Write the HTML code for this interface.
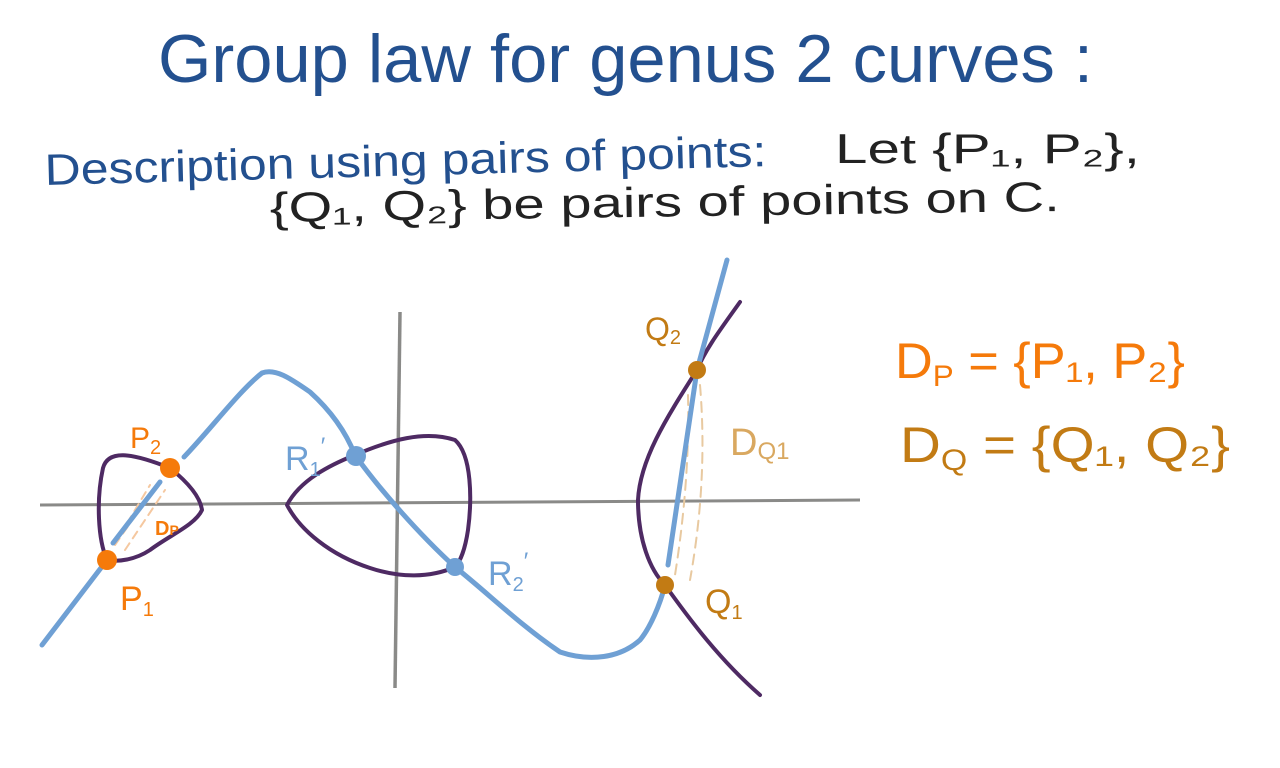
<!DOCTYPE html>
<html><head><meta charset="utf-8"><style>
html,body{margin:0;padding:0;background:#fff;}
svg{display:block;}
text{font-family:"Liberation Sans",sans-serif;}
</style></head><body>
<svg width="1280" height="768" viewBox="0 0 1280 768" xmlns="http://www.w3.org/2000/svg">
<rect width="1280" height="768" fill="#fff"/>
<text x="158" y="82" font-size="68" fill="#23508f" textLength="935" lengthAdjust="spacingAndGlyphs">Group law for genus 2 curves :</text>
<text x="45" y="185" font-size="44" fill="#23508f" textLength="722" lengthAdjust="spacingAndGlyphs" transform="rotate(-1.5 45 185)">Description using pairs of points:</text>
<text x="835" y="163" font-size="42" fill="#222" textLength="305" lengthAdjust="spacingAndGlyphs">Let {P₁, P₂},</text>
<text x="270" y="222" font-size="42" fill="#222" textLength="790" lengthAdjust="spacingAndGlyphs" transform="rotate(-0.8 270 222)">{Q₁, Q₂} be pairs of points on C.</text>

<!-- axes -->
<line x1="40" y1="505" x2="860" y2="500" stroke="#8a8a88" stroke-width="3"/>
<line x1="400" y1="312" x2="395" y2="688" stroke="#8a8a88" stroke-width="3.5"/>

<g fill="none" stroke-linecap="round" stroke-linejoin="round">
<path d="M115 545 L160 480 M125 550 L165 490 M120 535 L150 485" stroke="#f5c8a0" stroke-width="2" stroke-dasharray="8 6"/>
<path d="M700 385 Q708 480 690 580 M688 395 Q690 480 675 575" stroke="#e8c9a0" stroke-width="2" stroke-dasharray="10 7"/>
<path d="M107 560 C98 540 96 500 103 468 C108 450 130 452 170 468 C185 480 200 495 202 510 C195 525 170 535 150 550 C135 560 118 562 107 560 Z" stroke="#4e2a63" stroke-width="4"/>
<path d="M287 505 C300 480 330 465 355 455 C390 440 425 430 455 440 C472 455 472 500 468 530 C465 550 460 562 455 567 C430 578 400 578 370 568 C330 555 300 530 287 505 Z" stroke="#4e2a63" stroke-width="4"/>
<path d="M740 302 C720 330 705 350 697 370 C665 420 640 460 638 500 C638 540 650 570 665 585 C690 620 720 660 760 695" stroke="#4e2a63" stroke-width="4"/>
<path d="M42 645 L107 560" stroke="#6fa0d4" stroke-width="5"/>
<path d="M113 543 L160 482" stroke="#6fa0d4" stroke-width="5"/>
<path d="M184 457 C210 430 240 390 262 373 C275 368 290 378 310 392 C330 410 345 430 355 455 C380 490 420 535 455 567 C490 595 520 625 560 652 C590 662 620 658 640 640 C650 628 660 605 665 585" stroke="#6fa0d4" stroke-width="5"/>
<path d="M668 565 L697 370 L727 260" stroke="#6fa0d4" stroke-width="5"/>
</g>
<circle cx="107" cy="560" r="10" fill="#f57a0a"/>
<circle cx="170" cy="468" r="10" fill="#f57a0a"/>
<circle cx="356" cy="456" r="10" fill="#6fa0d4"/>
<circle cx="455" cy="567" r="9" fill="#6fa0d4"/>
<circle cx="665" cy="585" r="9" fill="#c27b14"/>
<circle cx="697" cy="370" r="9" fill="#c27b14"/>
<text x="130" y="448" font-size="30" fill="#f57a0a">P<tspan font-size="20" dy="6">2</tspan></text>
<text x="120" y="610" font-size="34" fill="#f57a0a">P<tspan font-size="20" dy="6">1</tspan></text>
<text x="155" y="535" font-size="20" fill="#f57a0a" font-weight="bold">D<tspan font-size="14">P</tspan></text>
<text x="285" y="470" font-size="34" fill="#6fa0d4">R<tspan font-size="20" dy="6">1</tspan><tspan font-size="24" dy="-22">′</tspan></text>
<text x="488" y="585" font-size="34" fill="#6fa0d4">R<tspan font-size="20" dy="6">2</tspan><tspan font-size="24" dy="-22">′</tspan></text>
<text x="645" y="340" font-size="32" fill="#c27b14">Q<tspan font-size="20" dy="4">2</tspan></text>
<text x="705" y="613" font-size="34" fill="#c27b14">Q<tspan font-size="20" dy="6">1</tspan></text>
<text x="730" y="455" font-size="38" fill="#d9a860">D<tspan font-size="24" dy="4">Q1</tspan></text>
<text x="895" y="378" font-size="50" fill="#f57a0a" textLength="290" lengthAdjust="spacingAndGlyphs">D<tspan font-size="30" dy="8">P</tspan><tspan dy="-8"> = {P₁, P₂}</tspan></text>
<text x="900" y="462" font-size="50" fill="#c27b14" textLength="330" lengthAdjust="spacingAndGlyphs">D<tspan font-size="30" dy="8">Q</tspan><tspan dy="-8"> = {Q₁, Q₂}</tspan></text>
</svg>
</body></html>
